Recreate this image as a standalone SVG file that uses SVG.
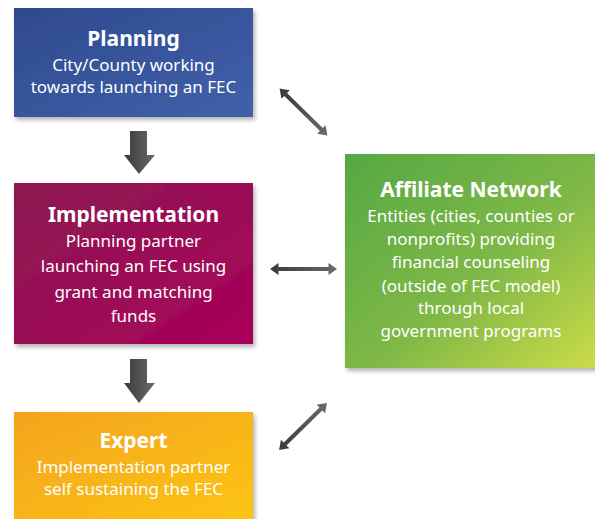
<svg xmlns="http://www.w3.org/2000/svg" width="595" height="519" viewBox="0 0 595 519">
<defs>
<style>
.title{font-family:"Noto Sans","Open Sans","Liberation Sans",sans-serif;font-weight:bold;font-size:21px;fill:#fff;text-anchor:middle}
.body{font-family:"Noto Sans","Open Sans","Liberation Sans",sans-serif;font-size:17px;fill:#fff;text-anchor:middle}
.arrow{fill:url(#ga)}
</style>
<filter id="sh" x="-10%" y="-10%" width="130%" height="130%">
<feDropShadow dx="2" dy="3" stdDeviation="2" flood-color="#000" flood-opacity="0.3"/>
</filter>
<linearGradient id="gp" x1="0" y1="0" x2="1" y2="1">
<stop offset="0" stop-color="#2e4a8e"/><stop offset="1" stop-color="#4160ab"/>
</linearGradient>
<linearGradient id="gi" x1="0" y1="0" x2="1" y2="1">
<stop offset="0" stop-color="#8c1a50"/><stop offset="1" stop-color="#a8005b"/>
</linearGradient>
<linearGradient id="ge" x1="0" y1="0" x2="1" y2="1">
<stop offset="0" stop-color="#f4a41c"/><stop offset="1" stop-color="#fcc417"/>
</linearGradient>
<linearGradient id="gn" x1="0" y1="0" x2="1" y2="1">
<stop offset="0" stop-color="#55a843"/><stop offset="0.55" stop-color="#7fb846"/><stop offset="1" stop-color="#cddc48"/>
</linearGradient>
<linearGradient id="ga" x1="0" y1="0" x2="1" y2="0">
<stop offset="0" stop-color="#3a3a3a"/><stop offset="1" stop-color="#6a6a6a"/>
</linearGradient>
<polygon id="dbl" points="-33.5,0 -25,-6 -25,-2 25,-2 25,-6 33.5,0 25,6 25,2 -25,2 -25,6"/>
</defs>
<rect width="595" height="519" fill="#fff"/>

<g id="planning">
<rect x="14" y="8" width="239" height="109" fill="url(#gp)" filter="url(#sh)"/>
<text class="title" x="133.5" y="46">Planning</text>
<text class="body" x="133.5" y="71">City/County working</text>
<text class="body" x="133.5" y="93">towards launching an FEC</text>
</g>

<g id="implementation">
<rect x="14" y="183" width="239" height="161" fill="url(#gi)" filter="url(#sh)"/>
<text class="title" x="133.5" y="222">Implementation</text>
<text class="body" x="133.5" y="247">Planning partner</text>
<text class="body" x="133.5" y="272">launching an FEC using</text>
<text class="body" x="133.5" y="297.5">grant and matching</text>
<text class="body" x="133.5" y="322">funds</text>
</g>

<g id="expert">
<rect x="14" y="412" width="239" height="107" fill="url(#ge)" filter="url(#sh)"/>
<text class="title" x="133.5" y="448">Expert</text>
<text class="body" x="133.5" y="473">Implementation partner</text>
<text class="body" x="133.5" y="495">self sustaining the FEC</text>
</g>

<g id="affiliate">
<rect x="345" y="154" width="255" height="214" fill="url(#gn)" filter="url(#sh)"/>
<text class="title" x="471" y="197">Affiliate Network</text>
<text class="body" x="471" y="222">Entities (cities, counties or</text>
<text class="body" x="471" y="245">nonprofits) providing</text>
<text class="body" x="471" y="268">financial counseling</text>
<text class="body" x="471" y="291.5">(outside of FEC model)</text>
<text class="body" x="471" y="313.5">through local</text>
<text class="body" x="471" y="337">government programs</text>
</g>

<g id="connectors">
<polygon class="arrow" points="130,131 147,131 147,155 155,155 139,174 124,155 130,155"/>
<polygon class="arrow" points="130,359 147,359 147,383 155,383 139,403 124,383 130,383"/>
<use href="#dbl" class="arrow" transform="translate(303.5,112) rotate(44.4)"/>
<use href="#dbl" class="arrow" transform="translate(303.5,269)"/>
<use href="#dbl" class="arrow" transform="translate(303,426.5) rotate(-44.4)"/>
</g>
</svg>
